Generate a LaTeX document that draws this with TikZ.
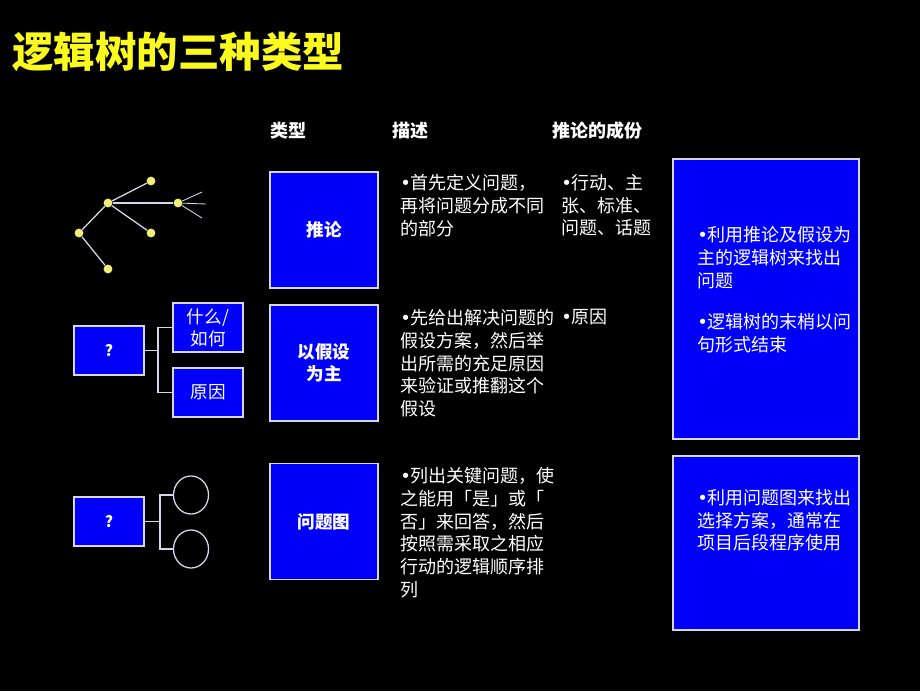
\documentclass[tikz,border=0pt]{standalone}
\usepackage{fontspec}
\setmainfont{Noto Sans CJK SC}
\newfontfamily\symfont{DejaVu Sans}
\newcommand{\bul}{{\symfont\char"2022}}
\usetikzlibrary{positioning,shapes.geometric}
\definecolor{slideblue}{RGB}{0,0,250}
\definecolor{titleyellow}{RGB}{250,250,30}
\definecolor{dotyellow}{RGB}{240,240,120}
\definecolor{edgegray}{RGB}{215,215,235}

\begin{document}
\begin{tikzpicture}[x=0.025cm, y=-0.025cm,
    box/.style={draw=edgegray, line width=0.9pt, fill=slideblue, text=white, align=center, font=\fontsize{12.5}{15.5}\selectfont},
    bigbox/.style={box, minimum width=2.7cm, minimum height=2.9cm, font=\fontsize{12.5}{15.5}\selectfont\bfseries},
    smallbox/.style={box, minimum width=1.75cm, minimum height=1.225cm},
    txt/.style={text=white, align=left, anchor=north west, inner sep=0pt, font=\fontsize{12.8}{16.2}\selectfont},
    head/.style={text=white, anchor=base west, inner sep=0pt, font=\fontsize{12.8}{15.8}\selectfont\bfseries},
    dot/.style={circle, fill=dotyellow, inner sep=0pt, minimum size=0.22cm},
    link/.style={draw=edgegray, line width=0.9pt}]
      \fill[black] (0,0) rectangle (920,691);
      \useasboundingbox (0,0) rectangle (920,691);

      % title
      \node[anchor=base west, inner sep=0pt, text=titleyellow, font=\fontsize{29.5}{34}\selectfont\bfseries] (title) at (12,67) {逻辑树的三种类型};

      % column heads
      \node[head] (hType) at (270,137) {类型};
      \node[head] (hDesc) at (392,137) {描述};
      \node[head] (hPart) at (552,137) {推论的成份};

      % row 1: reasoning tree
      \node[dot] (r) at (79,233) {};
      \node[dot] (a) at (108,203) {};
      \node[dot] (b) at (108,269) {};
      \node[dot] (a1) at (151,181) {};
      \node[dot] (a2) at (178,203) {};
      \node[dot] (a3) at (151,233) {};
      \coordinate (t1) at (202,192);
      \coordinate (t2) at (206,204);
      \coordinate (t3) at (202,218);
      \draw[link] (r) -- (a);
      \draw[link] (r) -- (b);
      \draw[link] (a) -- (a1);
      \draw[link] (a) -- (a2);
      \draw[link] (a) -- (a3);
      \draw[link, line width=0.6pt] (a2) -- (t1);
      \draw[link, line width=0.6pt] (a2) -- (t2);
      \draw[link, line width=0.6pt] (a2) -- (t3);

      \node[bigbox] (Reason) at (324,230) {推论};
      \node[txt] (Desc1) at (400,174) {\bul{}首先定义问题，\\再将问题分成不同\\的部分};
      \node[txt] (Part1) at (561,174) {\bul{}行动、主\\张、标准、\\问题、话题};

      % row 2: hypothesis
      \node[smallbox, font=\fontsize{11}{13}\selectfont\bfseries] (q2) at (109,350.5) {?};
      \node[smallbox] (what) at (208,327.5) {什么/\\如何};
      \node[smallbox] (cause) at (208,392.5) {原因};
      \coordinate (fork2) at (158,350.5);
      \draw[link] (q2.east) -- (fork2);
      \draw[link] (fork2) |- (what.west);
      \draw[link] (fork2) |- (cause.west);

      \node[bigbox] (Hypo) at (324,363) {以假设\\为主};
      \node[txt] (Desc2) at (400,309) {\bul{}先给出解决问题的\\假设方案，然后举\\出所需的充足原因\\来验证或推翻这个\\假设};
      \node[txt] (Part2) at (561,309) {\bul{}原因};

      % row 3: issue diagram
      \node[smallbox, font=\fontsize{11}{13}\selectfont\bfseries] (q3) at (109,521.5) {?};
      \node[link, ellipse, minimum width=0.875cm, minimum height=0.95cm, inner sep=0pt] (yes) at (191,495) {};
      \node[link, ellipse, minimum width=0.875cm, minimum height=0.95cm, inner sep=0pt] (no) at (191,549) {};
      \coordinate (fork3) at (160,521.5);
      \draw[link] (q3.east) -- (fork3);
      \draw[link] (fork3) |- (yes.west);
      \draw[link] (fork3) |- (no.west);

      \node[bigbox] (Issue) at (324,521.5) {问题图};
      \node[txt] (Desc3) at (400,467) {\bul{}列出关键问题，使\\之能用「是」或「\\否」来回答，然后\\按照需采取之相应\\行动的逻辑顺序排\\列};

      % right hand notes
      \node[box, minimum width=4.65cm, minimum height=7cm] (Note1) at (766,299) {};
      \node[txt] (Note1a) at (697,226) {\bul{}利用推论及假设为\\主的逻辑树来找出\\问题};
      \node[txt] (Note1b) at (697,313) {\bul{}逻辑树的末梢以问\\句形式结束};
      \node[box, minimum width=4.65cm, minimum height=4.35cm] (Note2) at (766,543) {};
      \node[txt] (Note2a) at (697,489) {\bul{}利用问题图来找出\\选择方案，通常在\\项目后段程序使用};
    \end{tikzpicture}
\end{document}
